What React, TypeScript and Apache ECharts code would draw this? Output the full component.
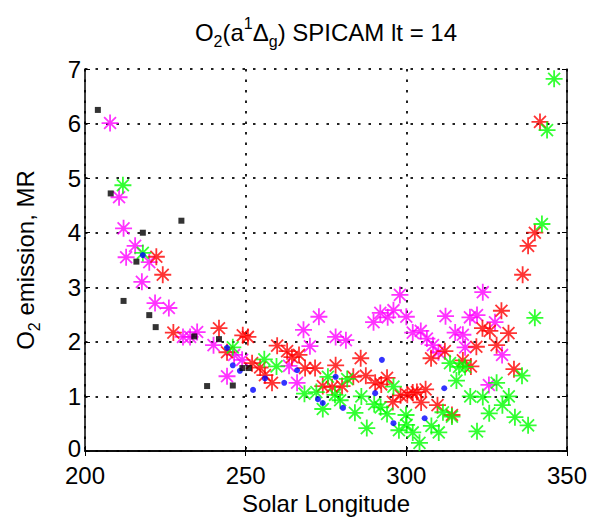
import React, { useEffect, useRef } from "react";
import * as echarts from "echarts";

const xTicks = [200, 250, 300, 350];
const yTicks = [0, 1, 2, 3, 4, 5, 6, 7];

const blackSquares: number[][] = [
  [204, 6.25], [208, 4.72], [212, 2.75], [216, 3.47], [218, 4.0], [220, 2.49],
  [222, 2.27], [230, 4.22], [234, 2.1], [238, 1.19], [241.7, 2.05], [246, 1.2],
  [249, 1.52], [251, 1.52],
];

const blueDots: number[][] = [
  [218, 3.59], [244.2, 1.89], [246, 1.57], [248.2, 1.47], [252.3, 1.12], [256, 1.33],
  [262, 1.25], [266, 1.48], [272.5, 0.95], [274, 0.88], [278, 1.36], [280.3, 0.79],
  [290.3, 1.06], [292.4, 1.67], [296, 0.51], [305.7, 0.6], [311.8, 1.15],
];

const magentaStars: number[][] = [
  [207.8, 6.01], [210.6, 4.65], [212, 4.08], [212.8, 3.55], [215.6, 3.76], [217.7, 3.1],
  [220, 3.46], [221.8, 2.71], [226.1, 2.62], [230.5, 2.09], [232.7, 2.09],
  [234.9, 2.18], [240, 1.94], [244.2, 1.37], [246.4, 1.76], [248.9, 1.67], [263.5, 1.56],
  [266, 1.25], [268, 2.22], [270, 1.92], [272.8, 2.46], [278, 2.09], [281.2, 2.03],
  [289.8, 2.36], [291.9, 2.53], [294.2, 2.45], [296, 2.58], [298, 2.86], [300, 2.46],
  [302, 2.17], [304.5, 2.2], [306.4, 2.06], [308.3, 1.94], [310, 1.81], [312.2, 2.47],
  [315.2, 2.17], [318.3, 1.9], [317.6, 2.13], [319.8, 2.45], [322, 2.49], [323.8, 2.91],
  [327.6, 2.36], [329.8, 1.76], [325.7, 1.21],
];

const redStars: number[][] = [
  [222.2, 3.56], [224.2, 3.23], [227.5, 2.17], [241.7, 2.25], [244.2, 1.81], [249.1, 2.12],
  [250.7, 2.09], [252, 1.61], [254.5, 1.53], [256, 1.39], [258.2, 1.25], [259.8, 1.93],
  [262.9, 1.83], [264.4, 1.72], [266.6, 1.76], [268.5, 1.52], [271.6, 1.52], [274, 1.19],
  [276.9, 1.17], [278, 1.57], [280, 1.19], [283.5, 1.36], [285.8, 1.7], [287.4, 1.38],
  [290.3, 1.25], [292.2, 1.22], [294, 1.34], [295.8, 0.9], [298.2, 1.02], [300.3, 1.03],
  [302, 1.07], [303.3, 1.08], [304.6, 0.89], [306, 1.13], [309.7, 0.84], [314.2, 0.66],
  [307.7, 1.7], [312, 1.83], [317.6, 1.66], [320.1, 1.55], [321.8, 1.91], [323.7, 2.25],
  [326, 2.2], [328.1, 1.94], [329.6, 2.57], [331.8, 2.16], [333.5, 1.5], [336.2, 3.23],
  [337.9, 3.76], [340, 4.0], [341.6, 6.03],
];

const greenStars: number[][] = [
  [211.8, 4.87], [218, 3.63], [246, 1.9], [255.8, 1.68], [259.6, 1.55], [268.3, 1.05],
  [272, 1.08], [274, 0.77], [275.6, 1.36], [277.8, 1.03], [279.4, 0.93], [281.6, 1.32],
  [284, 0.7], [286, 1.0], [287.7, 0.42], [290, 0.86], [292, 0.8], [294, 0.68], [296, 1.18],
  [297.7, 0.38], [299.9, 0.66], [300.1, 0.48], [302, 0.34], [304.1, 0.15], [307.8, 0.46],
  [310.1, 0.34], [311.4, 0.71], [313.6, 1.61], [314.2, 0.63], [315.6, 1.29], [316.4, 1.54],
  [318.3, 1.54], [319.9, 1.0], [322, 0.36], [323.8, 0.99], [325.8, 0.69], [328.1, 1.25],
  [329.9, 0.84], [331.9, 1.0], [333.8, 0.62], [336, 1.38], [337.9, 0.47], [340, 2.44],
  [342.2, 4.16], [343.8, 5.88], [346, 6.82],
];

const FONT = "Liberation Sans, Arial, Helvetica, sans-serif";
const AST = "path://M10,0 L10,20 M0,10 L20,10 M3,3 L17,17 M3,17 L17,3";

function starSeries(name: string, data: number[][], color: string) {
  return {
    name,
    type: "scatter",
    data,
    symbol: AST,
    symbolSize: 17,
    itemStyle: { color: "rgba(0,0,0,0)", borderColor: color, borderWidth: 1.8 },
    z: 2,
  };
}

export default function App() {
  const ref = useRef<HTMLDivElement>(null);
  useEffect(() => {
    const chart = echarts.init(ref.current!, null, { renderer: "svg" });
    const gridLine = { show: true, lineStyle: { color: "#222", width: 2, type: [2.5, 8] } };
    const axisLine = { show: true, lineStyle: { color: "#000", width: 1.5 } };
    const baseX = {
      type: "value",
      min: xTicks[0],
      max: xTicks[xTicks.length - 1],
      interval: 50,
      axisLine,
      axisTick: { show: true, inside: true, length: 5, lineStyle: { color: "#000", width: 1 } },
    };
    const baseY = {
      type: "value",
      min: yTicks[0],
      max: yTicks[yTicks.length - 1],
      interval: 1,
      axisLine,
      axisTick: { show: true, inside: true, length: 5, lineStyle: { color: "#000", width: 1 } },
    };
    const titleRich = {
      n: { fontSize: 24, fontFamily: FONT, color: "#000", lineHeight: 34 },
      sub: { fontSize: 16, fontFamily: FONT, color: "#000", lineHeight: 18, verticalAlign: "bottom" },
      sup: { fontSize: 16, fontFamily: FONT, color: "#000", lineHeight: 18, verticalAlign: "top" },
    };
    chart.setOption({
      animation: false,
      backgroundColor: "#fff",
      grid: { left: 85, right: 23, top: 69, bottom: 71 },
      graphic: [
        {
          type: "text",
          x: 326,
          y: 32,
          style: {
            text: "{n|O}{sub|2}{n|(a}{sup|1}{n|Δ}{sub|g}{n|) SPICAM lt = 14}",
            rich: titleRich,
            align: "center",
            verticalAlign: "middle",
          },
        },
      ],
      xAxis: [
        {
          ...baseX,
          position: "bottom",
          splitLine: gridLine,
          axisLabel: { color: "#000", fontSize: 24, lineHeight: 22, fontFamily: FONT, margin: 13 },
          name: "Solar Longitude",
          nameLocation: "middle",
          nameGap: 40,
          nameTextStyle: { color: "#000", fontSize: 24, fontFamily: FONT },
        },
        { ...baseX, position: "top", splitLine: { show: false }, axisLabel: { show: false } },
      ],
      yAxis: [
        {
          ...baseY,
          position: "left",
          splitLine: gridLine,
          axisLabel: {
            color: "#000",
            fontSize: 24,
            lineHeight: 22,
            fontFamily: FONT,
            margin: 4,
            formatter: (v: number) => (v === 0 ? "{z|0}" : String(v)),
            rich: { z: { fontSize: 24, lineHeight: 22, fontFamily: FONT, color: "#000", padding: [0, 0, 6, 0] } },
          },
          name: "{n|O}{sub|2}{n| emission, MR}",
          nameLocation: "middle",
          nameGap: 43,
          nameTextStyle: { rich: titleRich },
        },
        { ...baseY, position: "right", splitLine: { show: false }, axisLabel: { show: false } },
      ],
      series: [
        starSeries("magenta", magentaStars, "#ff00ff"),
        starSeries("red", redStars, "#ff0000"),
        starSeries("green", greenStars, "#00ff00"),
        {
          name: "blue",
          type: "scatter",
          data: blueDots,
          symbol: "circle",
          symbolSize: 6,
          itemStyle: { color: "#0000ff" },
          z: 3,
        },
        {
          name: "black",
          type: "scatter",
          data: blackSquares,
          symbol: "rect",
          symbolSize: 6,
          itemStyle: { color: "#000" },
          z: 4,
        },
      ],
    });
    return () => chart.dispose();
  }, []);
  return (
    <div
      ref={ref}
      style={{ position: "absolute", left: 0, top: 0, width: 590, height: 522 }}
    />
  );
}
